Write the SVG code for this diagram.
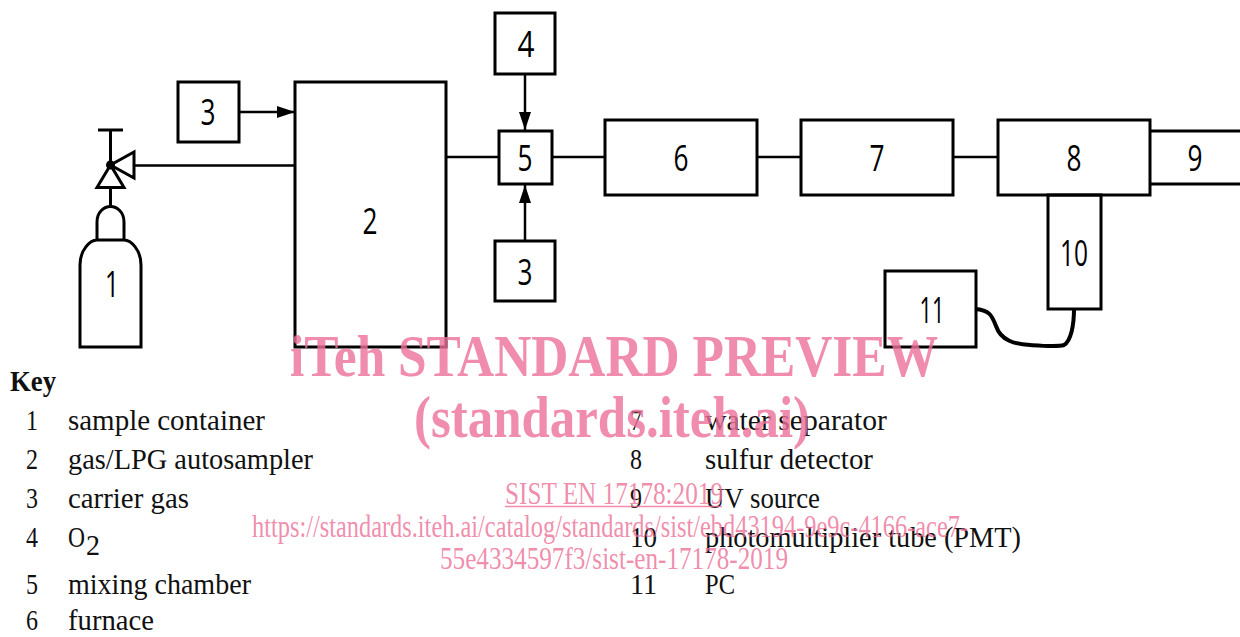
<svg xmlns="http://www.w3.org/2000/svg" width="1240" height="637" viewBox="0 0 1240 637">
<style>
.s{fill:none;stroke:#000;stroke-width:3}
.c{fill:none;stroke:#000;stroke-width:2.5}
.d{font-family:"Open Sans","DejaVu Sans",sans-serif;font-size:36px;font-weight:400;text-anchor:middle;fill:#000}
.k{font-family:"Liberation Serif",serif;font-size:29px;fill:#111}
.w{font-family:"Liberation Serif",serif;fill:#ec6f98;fill-opacity:.8}
.b{font-weight:700;font-size:60px}
.u{font-size:31px}
</style>
<defs><marker id="a" markerUnits="userSpaceOnUse" markerWidth="18" markerHeight="12" refX="18" refY="6" orient="auto"><path d="M0 0L18 6L0 12Z" fill="#000"/></marker></defs>
<rect width="1240" height="637" fill="#fff"/>
<g id="connectors">
<path class="c" d="M239 112H295" marker-end="url(#a)"/>
<path class="c" d="M295 165.500H134"/>
<path class="c" d="M446 157H499"/>
<path class="c" d="M525 74V130" marker-end="url(#a)"/>
<path class="c" d="M525 241V185" marker-end="url(#a)"/>
<path class="c" d="M552 157H605"/>
<path class="c" d="M757 157H801"/>
<path class="c" d="M953 157H998"/>
<path d="M975 309C990 310 992 316 996 326C1001 341 1015 344 1030 345C1045 346 1058 347 1064 345C1071 341 1074 325 1074 309" fill="none" stroke="#000" stroke-width="4"/>
</g>
<g id="n1"><path class="s" d="M80 347V265C80 250 90 240 97 240H124C131 240 141 250 141 265V347Z"/><path class="s" d="M97 240V222C97 212 104 206.500 110.500 206.500C117 206.500 124 212 124 222V240"/><text class="d" x="112" y="297" textLength="14" lengthAdjust="spacingAndGlyphs">1</text></g>
<g id="valve"><path class="s" d="M110.500 207V188M97 187.500L110.500 165L124 187.500ZM134 152V178L110.500 165ZM110.500 165V130M98 130H123"/><circle cx="110.500" cy="165" r="4.500" fill="#000"/></g>
<g id="n2"><rect class="s" x="295" y="82" width="151" height="265"/><text class="d" x="370" y="234" textLength="15" lengthAdjust="spacingAndGlyphs">2</text></g>
<g id="n3a"><rect class="s" x="178" y="82" width="61" height="60"/><text class="d" x="208" y="125" textLength="15" lengthAdjust="spacingAndGlyphs">3</text></g>
<g id="n4"><rect class="s" x="495" y="13" width="60" height="61"/><text class="d" x="526" y="57" textLength="17" lengthAdjust="spacingAndGlyphs">4</text></g>
<g id="n5"><rect class="s" x="499" y="131" width="53" height="53"/><text class="d" x="525" y="171" textLength="15" lengthAdjust="spacingAndGlyphs">5</text></g>
<g id="n3b"><rect class="s" x="495" y="241" width="60" height="60"/><text class="d" x="525" y="285" textLength="15" lengthAdjust="spacingAndGlyphs">3</text></g>
<g id="n6"><rect class="s" x="605" y="120" width="152" height="75"/><text class="d" x="681" y="171" textLength="15" lengthAdjust="spacingAndGlyphs">6</text></g>
<g id="n7"><rect class="s" x="801" y="120" width="152" height="75"/><text class="d" x="877" y="171" textLength="15" lengthAdjust="spacingAndGlyphs">7</text></g>
<g id="n8"><rect class="s" x="998" y="120" width="152" height="75"/><text class="d" x="1074" y="171" textLength="15" lengthAdjust="spacingAndGlyphs">8</text></g>
<g id="n9"><path class="s" d="M1150 131H1240M1150 184H1240"/><text class="d" x="1195" y="171" textLength="15" lengthAdjust="spacingAndGlyphs">9</text></g>
<g id="n10"><rect class="s" x="1048" y="195" width="53" height="114"/><text class="d" x="1074" y="266" textLength="28" lengthAdjust="spacingAndGlyphs">10</text></g>
<g id="n11"><rect class="s" x="885" y="271" width="91" height="76"/><text class="d" x="932" y="323" textLength="25" lengthAdjust="spacingAndGlyphs">11</text></g>
<g id="key">
<text class="k" x="10" y="391" font-weight="700" font-size="27" textLength="46" lengthAdjust="spacingAndGlyphs">Key</text>
<text class="k" x="26" y="430" textLength="12" lengthAdjust="spacingAndGlyphs">1</text><text class="k" x="68" y="430" textLength="197" lengthAdjust="spacingAndGlyphs">sample container</text>
<text class="k" x="26" y="469" textLength="12" lengthAdjust="spacingAndGlyphs">2</text><text class="k" x="68" y="469" textLength="245" lengthAdjust="spacingAndGlyphs">gas/LPG autosampler</text>
<text class="k" x="26" y="508" textLength="12" lengthAdjust="spacingAndGlyphs">3</text><text class="k" x="68" y="508" textLength="121" lengthAdjust="spacingAndGlyphs">carrier gas</text>
<text class="k" x="26" y="547" textLength="12" lengthAdjust="spacingAndGlyphs">4</text><text class="k" x="68" y="547" font-size="24" textLength="17" lengthAdjust="spacingAndGlyphs">O</text><text class="k" x="86" y="555" textLength="14" lengthAdjust="spacingAndGlyphs">2</text>
<text class="k" x="26" y="594" textLength="12" lengthAdjust="spacingAndGlyphs">5</text><text class="k" x="68" y="594" textLength="183" lengthAdjust="spacingAndGlyphs">mixing chamber</text>
<text class="k" x="26" y="630" font-size="26" textLength="12" lengthAdjust="spacingAndGlyphs">6</text><text class="k" x="68" y="630" font-size="26" textLength="86" lengthAdjust="spacingAndGlyphs">furnace</text>
<text class="k" x="630" y="430" textLength="12" lengthAdjust="spacingAndGlyphs">7</text><text class="k" x="705" y="430" textLength="182" lengthAdjust="spacingAndGlyphs">water separator</text>
<text class="k" x="630" y="469" textLength="12" lengthAdjust="spacingAndGlyphs">8</text><text class="k" x="705" y="469" textLength="168" lengthAdjust="spacingAndGlyphs">sulfur detector</text>
<text class="k" x="630" y="508" textLength="12" lengthAdjust="spacingAndGlyphs">9</text><text class="k" x="705" y="508" textLength="115" lengthAdjust="spacingAndGlyphs">UV source</text>
<text class="k" x="630" y="547" textLength="27" lengthAdjust="spacingAndGlyphs">10</text><text class="k" x="705" y="547" textLength="316" lengthAdjust="spacingAndGlyphs">photomultiplier tube (PMT)</text>
<text class="k" x="630" y="594" textLength="27" lengthAdjust="spacingAndGlyphs">11</text><text class="k" x="705" y="594" textLength="30" lengthAdjust="spacingAndGlyphs">PC</text>
</g>
<g id="watermark">
<text class="w b" x="290" y="376" textLength="648" lengthAdjust="spacingAndGlyphs">iTeh STANDARD PREVIEW</text>
<text class="w b" x="414" y="437" textLength="396" lengthAdjust="spacingAndGlyphs">(standards.iteh.ai)</text>
<text class="w u" x="505" y="504" textLength="218" lengthAdjust="spacingAndGlyphs">SIST EN 17178:2019</text>
<path d="M505 506.500H722" stroke="#ec6f98" stroke-opacity=".8" stroke-width="1.500"/>
<text class="w u" x="252" y="537" textLength="716" lengthAdjust="spacingAndGlyphs">https://standards.iteh.ai/catalog/standards/sist/ebd43194-9e9c-4166-ace7-</text>
<text class="w u" x="440" y="569" textLength="348" lengthAdjust="spacingAndGlyphs">55e4334597f3/sist-en-17178-2019</text>
</g>
</svg>
